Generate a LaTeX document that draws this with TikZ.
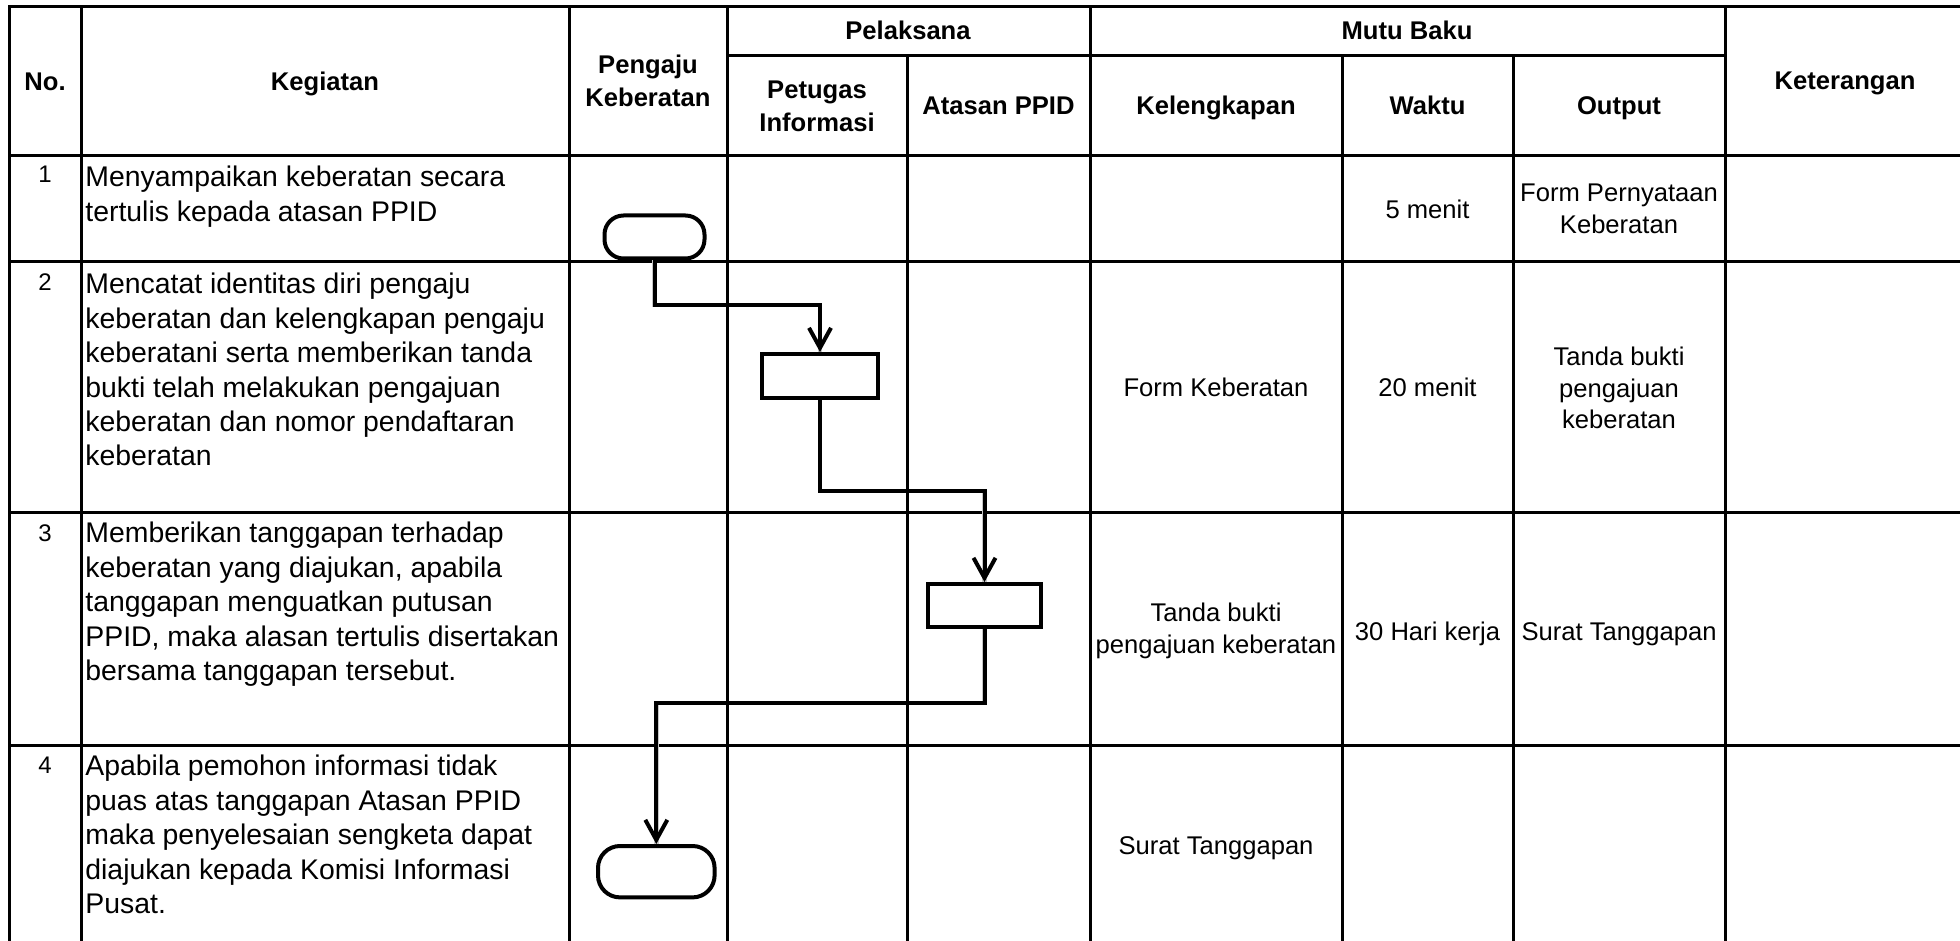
\documentclass[tikz,border=0pt]{standalone}
\usepackage{fontspec}
\setmainfont{Liberation Sans}
\usetikzlibrary{arrows.meta}
\newcommand\kgfont{\fontsize{14.2}{17.2}\selectfont}
\newcommand\cellfont{\fontsize{12.8}{15.7}\selectfont}
\newcommand\hdfont{\fontsize{12.8}{16.5}\selectfont\bfseries}
\newcommand\numfont{\fontsize{12}{13}\selectfont}
\begin{document}
\begin{tikzpicture}[x=0.5pt,y=-0.5pt,
  gridline/.style={line width=1.5pt,line cap=rect,black},
  hd/.style={font=\hdfont,align=center,inner sep=0pt},
  hdb/.style={font=\hdfont,anchor=base,inner sep=0pt},
  kg/.style={font=\kgfont,align=left,anchor=north west,inner sep=0pt},
  cell/.style={font=\cellfont,align=center,inner sep=0pt},
  cellb/.style={font=\cellfont,anchor=base,inner sep=0pt},
  num/.style={font=\numfont,anchor=north,inner sep=0pt},
  term/.style={draw,line width=2pt,inner sep=0pt},
  proc/.style={draw,line width=2pt,inner sep=0pt},
  flow/.style={line width=2pt,line join=miter,-{Straight Barb[length=10pt,width=11pt,line width=2pt]}},
  shadowline/.style={line width=2.2pt,black!22,line join=miter,shift={(2.5,2.5)}}
]
\useasboundingbox (0,0) rectangle (1960,941);
\fill[white] (0,0) rectangle (1960,941);
\clip (0,0) rectangle (1960,941);

% grid
\draw[gridline] (9,7) -- (1975,7);
\draw[gridline] (727,56) -- (1725,56);
\foreach \yy in {155.5,262,512,745} \draw[gridline] (9,\yy) -- (1975,\yy);
\foreach \xx in {9,81,569,727,1090,1725} \draw[gridline] (\xx,7) -- (\xx,960);
\foreach \xx in {907.5,1342,1513} \draw[gridline] (\xx,56) -- (\xx,960);

% header
\node[hdb] (hno) at (45,90.5) {No.};
\node[hdb] (hkeg) at (325,90.5) {Kegiatan};
\node[hd] (hpeng) at (648,81) {Pengaju\\Keberatan};
\node[hdb] (hpel) at (908,40) {Pelaksana};
\node[hdb] (hmutu) at (1407,40) {Mutu Baku};
\node[hd] (hpet) at (817,106.5) {Petugas\\Informasi};
\node[hdb] (hatas) at (998.5,115) {Atasan PPID};
\node[hdb] (hkel) at (1216,115) {Kelengkapan};
\node[hdb] (hwak) at (1427.5,115) {Waktu};
\node[hdb] (hout) at (1619,115) {Output};
\node[hdb] (hket) at (1845,90) {Keterangan};

% numbers
\node[num] (n1) at (45,165.5) {1};
\node[num] (n2) at (45,273.5) {2};
\node[num] (n3) at (45,524) {3};
\node[num] (n4) at (45,757) {4};

% kegiatan
\node[kg] (k1) at (85,166) {Menyampaikan keberatan secara\\tertulis kepada atasan PPID};
\node[kg] (k2) at (85,273) {Mencatat identitas diri pengaju\\keberatan dan kelengkapan pengaju\\keberatani serta memberikan tanda\\bukti telah melakukan pengajuan\\keberatan dan nomor pendaftaran\\keberatan};
\node[kg] (k3) at (85,522) {Memberikan tanggapan terhadap\\keberatan yang diajukan, apabila\\tanggapan menguatkan putusan\\PPID, maka alasan tertulis disertakan\\bersama tanggapan tersebut.};
\node[kg] (k4) at (85,755) {Apabila pemohon informasi tidak\\puas atas tanggapan Atasan PPID\\maka penyelesaian sengketa dapat\\diajukan kepada Komisi Informasi\\Pusat.};

% mutu baku cells
\node[cellb] (w1) at (1427.5,218.3) {5 menit};
\node[cell] (o1) at (1619,209) {Form Pernyataan\\Keberatan};
\node[cellb] (kl2) at (1216,396.5) {Form Keberatan};
\node[cellb] (w2) at (1427.5,396.5) {20 menit};
\node[cell] (o2) at (1619,388) {Tanda bukti\\pengajuan\\keberatan};
\node[cell] (kl3) at (1216,631) {Tanda bukti\\pengajuan keberatan};
\node[cellb] (w3) at (1427.5,640) {30 Hari kerja};
\node[cellb] (o3) at (1619,640) {Surat Tanggapan};
\node[cellb] (kl4) at (1216,854) {Surat Tanggapan};

\coordinate (c1) at (740,305);
\coordinate (c2) at (900,491);
\coordinate (c3) at (800,703);

% flowchart shapes
\node[term,rounded corners=9.5pt,minimum width=50pt,minimum height=21.5pt] (t1) at (654.5,237) {};
\node[proc,minimum width=58pt,minimum height=22pt] (p1) at (820,376) {};
\node[proc,minimum width=56.5pt,minimum height=21.5pt] (p2) at (984.5,605.5) {};
\node[term,rounded corners=11pt,minimum width=58.3pt,minimum height=25.7pt] (t2) at (656.3,871.7) {};

% connectors (soft shadow, then line)
\draw[shadowline] (t1.south) |- (c1) -| (p1.north);
\draw[shadowline] (p1.south) |- (c2) -| (p2.north);
\draw[shadowline] (p2.south) |- (c3) -| (t2.north);
\draw[flow] (t1.south) |- (c1) -| (p1.north);
\draw[flow] (p1.south) |- (c2) -| (p2.north);
\draw[flow] (p2.south) |- (c3) -| (t2.north);
\end{tikzpicture}
\end{document}
